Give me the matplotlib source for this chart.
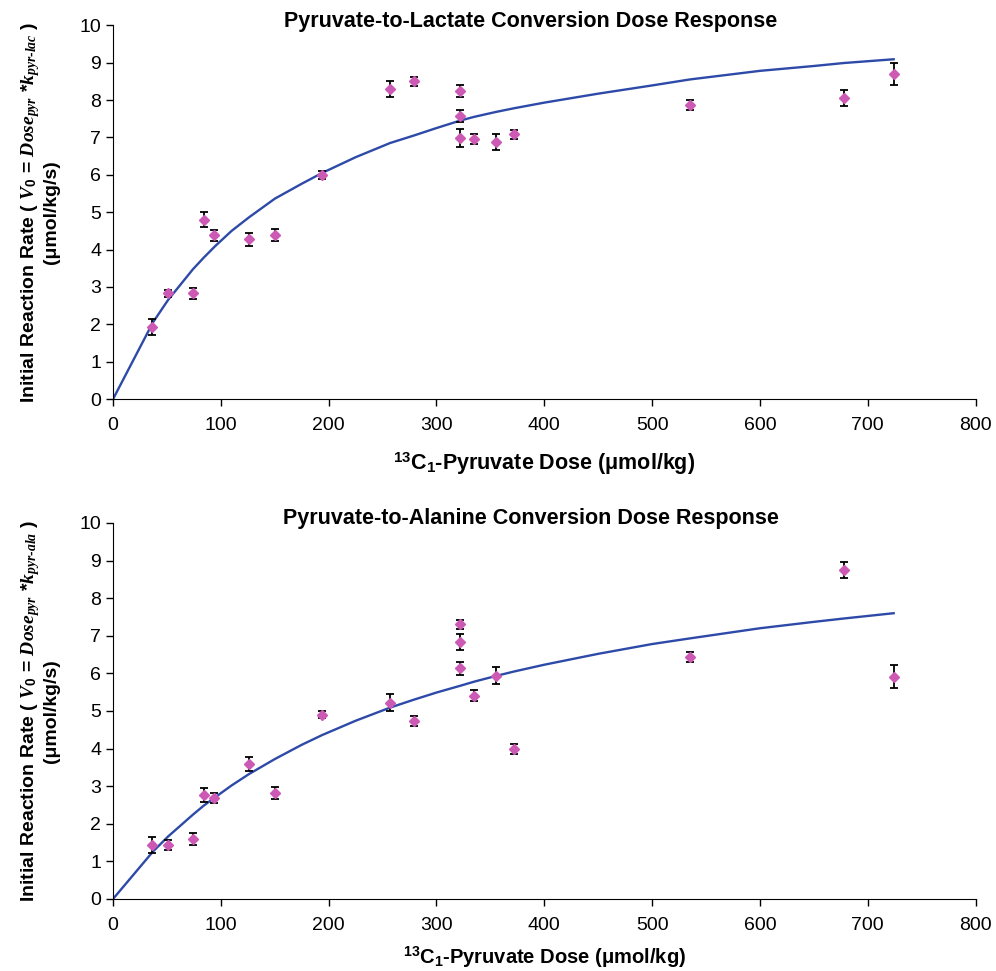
import numpy as np
import matplotlib
matplotlib.use("Agg")
import matplotlib.pyplot as plt

plt.rcParams["font.family"] = ["Liberation Sans", "DejaVu Sans"]
plt.rcParams["mathtext.fontset"] = "custom"
plt.rcParams["mathtext.it"] = "Liberation Serif:italic:bold"
plt.rcParams["mathtext.rm"] = "Liberation Sans:bold"
plt.rcParams["mathtext.bf"] = "Liberation Sans:bold"

# measured doses (umol/kg)
dose = [36, 51, 74, 84, 94, 126, 150, 194, 257, 279, 322, 322, 322, 335, 355, 372, 535, 678, 724]

# lactate conversion rates and error
lac_rate = [1.93, 2.83, 2.83, 4.80, 4.38, 4.27, 4.40, 5.99, 8.29, 8.50, 8.23, 7.57, 6.98, 6.95, 6.87, 7.08, 7.86, 8.05, 8.70]
lac_err = [0.22, 0.10, 0.14, 0.20, 0.14, 0.18, 0.16, 0.10, 0.22, 0.12, 0.16, 0.15, 0.25, 0.14, 0.22, 0.13, 0.14, 0.22, 0.30]

# alanine conversion rates and error
ala_rate = [1.44, 1.44, 1.60, 2.77, 2.69, 3.59, 2.82, 4.90, 5.22, 4.73, 7.31, 6.84, 6.13, 5.41, 5.94, 3.99, 6.43, 8.75, 5.91]
ala_err = [0.22, 0.13, 0.16, 0.18, 0.14, 0.18, 0.15, 0.10, 0.22, 0.13, 0.12, 0.22, 0.17, 0.15, 0.22, 0.13, 0.14, 0.22, 0.30]

# fitted curves
fit_dose = [0, 37, 51, 74, 84, 95, 110, 126, 150, 175, 194, 225, 257, 279, 300, 322, 335, 355, 372,
            400, 450, 500, 535, 600, 650, 678, 724]
lac_fit = [0, 2.05, 2.65, 3.47, 3.78, 4.10, 4.50, 4.86, 5.36, 5.76, 6.05, 6.47, 6.85, 7.05, 7.25, 7.45, 7.55, 7.68, 7.78,
           7.93, 8.17, 8.39, 8.55, 8.78, 8.91, 8.99, 9.09]
ala_fit = [0, 1.26, 1.66, 2.24, 2.48, 2.71, 3.02, 3.32, 3.72, 4.10, 4.36, 4.74, 5.09, 5.30, 5.49, 5.67, 5.78, 5.93, 6.05,
           6.23, 6.52, 6.78, 6.93, 7.20, 7.37, 7.46, 7.60]

line_color = "#2E4AA8"
pt_color = "#CC5AB4"

fig = plt.figure(figsize=(9.96, 9.71), dpi=100)
ax1 = fig.add_axes([0.1135, 0.589, 0.866, 0.385])
ax2 = fig.add_axes([0.1135, 0.0742, 0.866, 0.3872])


def draw_panel(ax, rate, err, fit, title, sub, xlabel_size, xlabel_pad):
    ax.plot(fit_dose, fit, color=line_color, lw=1.7, zorder=2)
    ax.errorbar(dose, rate, yerr=err, fmt="D", color=pt_color, ms=5,
                ecolor="black", elinewidth=1.3, capsize=3, capthick=1.3, zorder=3)
    ax.set_xlim(0, 800)
    ax.set_ylim(0, 10)
    ax.set_xticks(range(0, 801, 100))
    ax.set_yticks(range(0, 11))
    ax.spines["top"].set_visible(False)
    ax.spines["right"].set_visible(False)
    ax.tick_params(labelsize=14, length=5, width=1)
    ax.tick_params(axis="x", pad=8)
    # fixed y so matplotlib doesn't push the title above the "10" label
    ax.set_title(title, fontsize=15.5, fontweight="bold", x=0.484, y=1.0, pad=-1)
    ax.set_xlabel(r"$^{13}$C$_1$-Pyruvate Dose (μmol/kg)", fontsize=xlabel_size,
                  fontweight="bold", labelpad=xlabel_pad)
    ax.set_ylabel("Initial Reaction Rate ( $V_{\\mathit{0}}$ = $Dose_{pyr}$ *$k_{pyr\\text{-}" + sub + "}$ )\n(μmol/kg/s)",
                  fontsize=14, fontweight="bold", labelpad=14, linespacing=1.1)


draw_panel(ax1, lac_rate, lac_err, lac_fit, "Pyruvate-to-Lactate Conversion Dose Response", "lac", 15.5, 12)
draw_panel(ax2, ala_rate, ala_err, ala_fit, "Pyruvate-to-Alanine Conversion Dose Response", "ala", 14.5, 8)

fig.savefig("out.png", dpi=100)
